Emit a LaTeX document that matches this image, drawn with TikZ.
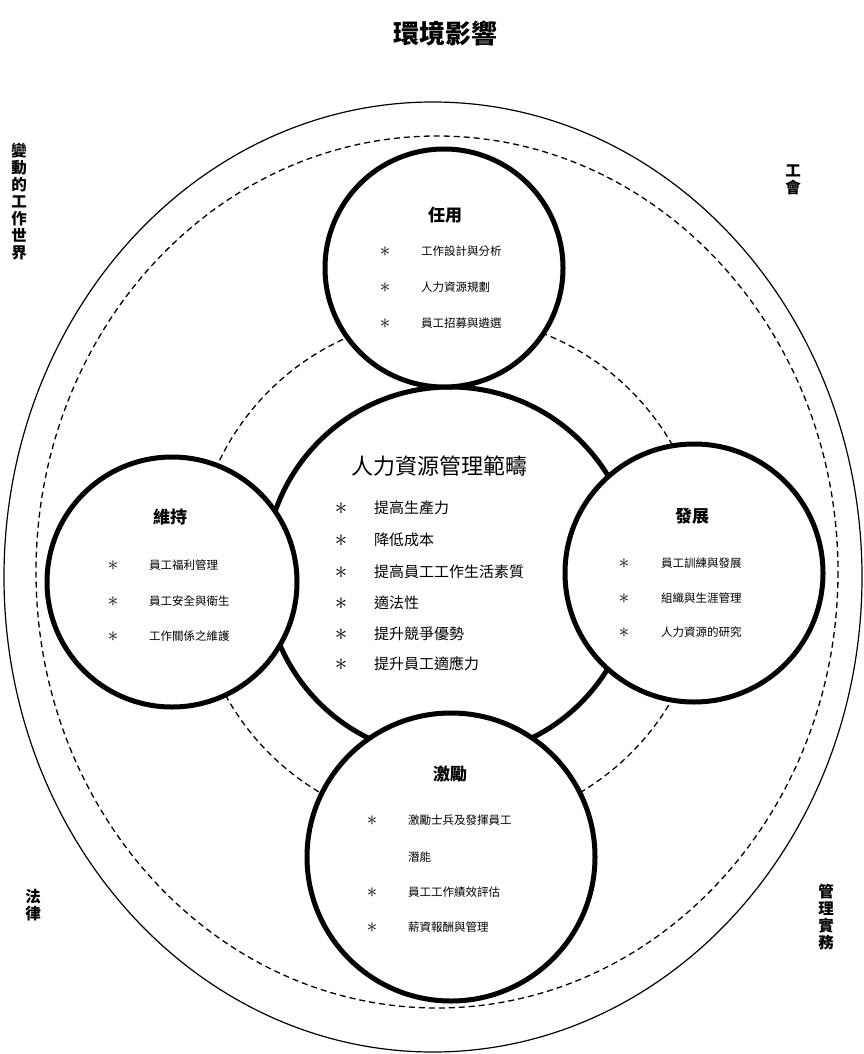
\documentclass[tikz,border=0pt]{standalone}
\usepackage{fontspec}
\setmainfont{Noto Sans CJK TC}
\begin{document}
\begin{tikzpicture}[x=1pt,y=-1pt,
  thickc/.style={draw=black,line width=5pt,fill=white},
  dashc/.style={draw=black,line width=1.3pt,dash pattern=on 6pt off 4pt},
  ttl/.style={font=\fontsize{17}{20}\selectfont\bfseries,anchor=center},
  itm/.style={font=\fontsize{11.5}{14}\selectfont,anchor=west,inner sep=0pt},
  star/.style={font=\fontsize{21}{14}\selectfont,anchor=center,inner sep=0pt},
  citm/.style={font=\fontsize{15}{18}\selectfont,anchor=west,inner sep=0pt},
  cstar/.style={font=\fontsize{25}{18}\selectfont,anchor=center,inner sep=0pt},
  side/.style={font=\fontsize{15.5}{17}\selectfont\bfseries,align=center,inner sep=0pt}]
\useasboundingbox (0,0) rectangle (864,1054);
% outer ellipses
\draw[line width=1.2pt] (433,577) ellipse [x radius=429,y radius=475];
\draw[dashc] (437,572) ellipse [x radius=401,y radius=436];
% dashed circle around centre
\draw[dashc] (450,572) circle [radius=256];
% centre circle
\node[thickc,circle,minimum size=370pt,inner sep=0pt] (c) at (450,572) {};
% four circles
\node[thickc,circle,minimum size=238pt,inner sep=0pt] (t) at (444,268) {};
\node[thickc,circle,minimum size=250pt,inner sep=0pt] (l) at (172,582) {};
\node[thickc,circle,minimum size=258pt,inner sep=0pt] (r) at (694,573) {};
\node[thickc,circle,minimum size=288pt,inner sep=0pt] (b) at (451,857) {};
% title
\node[font=\fontsize{26}{30}\selectfont\bfseries] (title) at (445,33) {環境影響};
% side labels
\node[side,anchor=north] (s1) at (19,143) {變\\動\\的\\工\\作\\世\\界};
\node[side,anchor=north] (s2) at (793,165) {工\\會};
\node[side,anchor=north] (s3) at (33,889) {法\\律};
\node[side,anchor=north] (s4) at (826,884) {管\\理\\實\\務};
% top circle
\node[ttl] (tt) at (445,215) {任用};
\node[star] (ts1) at (385,252) {$\ast$};
\node[itm] (ti1) at (421,251) {工作設計與分析};
\node[star] (ts2) at (385,288) {$\ast$};
\node[itm] (ti2) at (421,287) {人力資源規劃};
\node[star] (ts3) at (385,324) {$\ast$};
\node[itm] (ti3) at (421,323) {員工招募與遴選};
% left circle
\node[ttl] (lt) at (170,517) {維持};
\node[star] (ls1) at (113,566) {$\ast$};
\node[itm] (li1) at (149,565) {員工福利管理};
\node[star] (ls2) at (113,602) {$\ast$};
\node[itm] (li2) at (149,601) {員工安全與衛生};
\node[star] (ls3) at (113,637) {$\ast$};
\node[itm] (li3) at (149,636) {工作關係之維護};
% right circle
\node[ttl] (rt) at (692,516) {發展};
\node[star] (rs1) at (624,564) {$\ast$};
\node[itm] (ri1) at (661,563) {員工訓練與發展};
\node[star] (rs2) at (624,599) {$\ast$};
\node[itm] (ri2) at (661,598) {組織與生涯管理};
\node[star] (rs3) at (624,633) {$\ast$};
\node[itm] (ri3) at (661,632) {人力資源的研究};
% bottom circle
\node[ttl] (bt) at (450,774) {激勵};
\node[star] (bs1) at (372,821) {$\ast$};
\node[itm] (bi1) at (408,820) {激勵士兵及發揮員工};
\node[itm] (bi1b) at (408,857) {潛能};
\node[star] (bs2) at (372,893) {$\ast$};
\node[itm] (bi2) at (408,892) {員工工作績效評估};
\node[star] (bs3) at (372,928) {$\ast$};
\node[itm] (bi3) at (408,927) {薪資報酬與管理};
% centre
\node[font=\fontsize{22}{26}\selectfont] (ct) at (439,466) {人力資源管理範疇};
\node[cstar] (cs1) at (341,509) {$\ast$};
\node[citm] (ci1) at (374,508) {提高生產力};
\node[cstar] (cs2) at (341,541) {$\ast$};
\node[citm] (ci2) at (374,540) {降低成本};
\node[cstar] (cs3) at (341,573) {$\ast$};
\node[citm] (ci3) at (374,572) {提高員工工作生活素質};
\node[cstar] (cs4) at (341,604) {$\ast$};
\node[citm] (ci4) at (374,603) {適法性};
\node[cstar] (cs5) at (341,635) {$\ast$};
\node[citm] (ci5) at (374,634) {提升競爭優勢};
\node[cstar] (cs6) at (341,665) {$\ast$};
\node[citm] (ci6) at (374,664) {提升員工適應力};
\end{tikzpicture}
\end{document}
